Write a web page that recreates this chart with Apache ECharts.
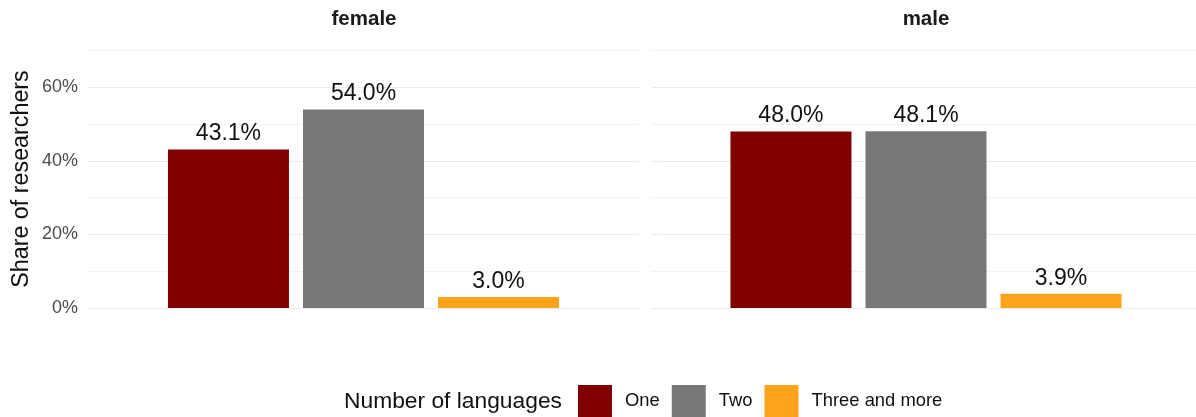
<!DOCTYPE html>
<html>
<head>
<meta charset="utf-8">
<script src="https://cdn.jsdelivr.net/npm/echarts@6/dist/echarts.min.js"></script>
<style>
html,body{margin:0;padding:0;background:#fff;}
#chart{width:1196px;height:417px;}
</style>
</head>
<body>
<div id="chart"></div>
<script>
const panels = ['female', 'male'];
const languages = ['One', 'Two', 'Three and more'];
const femaleShare = [0.431, 0.540, 0.030];
const maleShare = [0.480, 0.481, 0.039];
const yMax = 0.7;
const yStep = 0.1;
const colors = ['#800000', '#787878', '#ffa31a'];

const FONT = '"Liberation Sans", Arial, Helvetica, sans-serif';
const chart = echarts.init(document.getElementById('chart'), null, {renderer: 'canvas'});

const grids = [
  {left: 88, top: 50.7, width: 551, height: 257.3},
  {left: 656, top: 50.7, width: 540, height: 257.3},
  {left: 651, top: 50.7, width: 6, height: 257.3}
];
const panelData = [femaleShare, maleShare];

const xAxes = grids.map((g, i) => ({
  type: 'category', gridIndex: i, data: [panels[Math.min(i, 1)]],
  axisLine: {show: false}, axisTick: {show: false}, axisLabel: {show: false}, splitLine: {show: false}
}));
const yAxes = grids.map((g, i) => ({
  type: 'value', gridIndex: i, min: 0, max: yMax, interval: yStep,
  axisLine: {show: false}, axisTick: {show: false},
  axisLabel: {
    show: i === 0, color: '#4d4d4d', fontSize: 18, fontFamily: FONT, margin: 10,
    formatter: v => (Math.round(v * 100) % 20 === 0) ? Math.round(v * 100) + '%' : ''
  },
  splitLine: {show: true, lineStyle: {color: ['#ebebeb', '#f3f3f3'], width: 1.2}}
}));

const series = [];
panels.forEach((p, pi) => {
  languages.forEach((lang, li) => {
    series.push({
      type: 'bar', name: lang, xAxisIndex: pi, yAxisIndex: pi,
      data: [panelData[pi][li]],
      barWidth: 121, barGap: '11.6%',
      itemStyle: {color: colors[li]},
      label: {
        show: true, position: 'top', distance: 4,
        color: '#111', fontSize: 23, fontFamily: FONT,
        formatter: d => (d.value * 100).toFixed(1) + '%'
      },
      emphasis: {disabled: true}
    });
  });
});

const graphics = [
  {type: 'text', x: 364, y: 19, style: {text: panels[0], fontSize: 20.5, fontWeight: 'bold', fontFamily: FONT, fill: '#1a1a1a', align: 'center', verticalAlign: 'middle'}},
  {type: 'text', x: 926, y: 19, style: {text: panels[1], fontSize: 20.5, fontWeight: 'bold', fontFamily: FONT, fill: '#1a1a1a', align: 'center', verticalAlign: 'middle'}},
  {type: 'text', x: 22, y: 179, rotation: Math.PI / 2, style: {text: 'Share of researchers', fontSize: 23.3, fontFamily: FONT, fill: '#111', align: 'center', verticalAlign: 'middle'}},
  {type: 'text', x: 344, y: 402, style: {text: 'Number of languages', fontSize: 22.8, fontFamily: FONT, fill: '#111', align: 'left', verticalAlign: 'middle'}}
];

chart.setOption({
  animation: false,
  grid: grids,
  xAxis: xAxes,
  yAxis: yAxes,
  series: series,
  graphic: graphics,
  legend: {
    data: languages, left: 578, top: 385, orient: 'horizontal', padding: 0,
    itemWidth: 34, itemHeight: 32, itemGap: 12, icon: 'rect',
    textStyle: {fontSize: 18.4, fontFamily: FONT, color: '#111', padding: [4, 0, 0, 8]},
    selectedMode: false
  }
});
</script>
</body>
</html>
